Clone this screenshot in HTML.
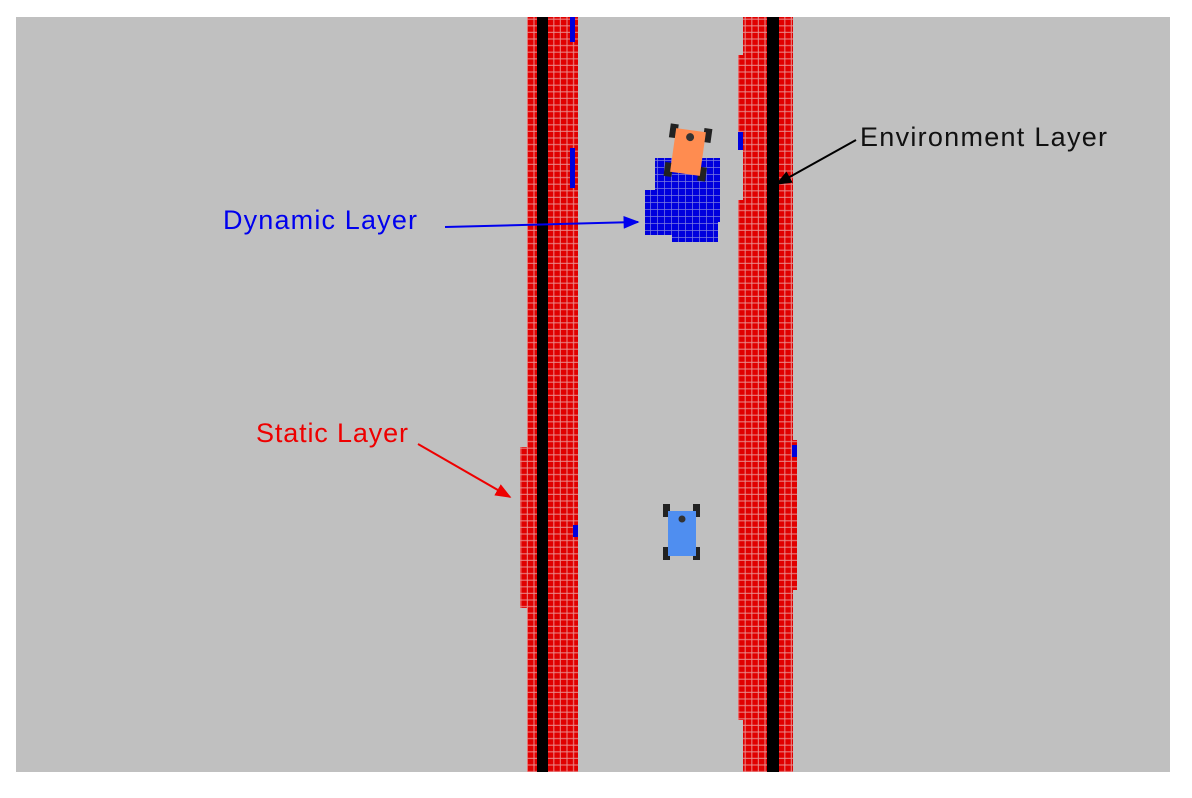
<!DOCTYPE html>
<html><head><meta charset="utf-8"><style>
body{margin:0;background:#fff;width:1192px;height:798px;overflow:hidden}
svg{display:block}
text{font-family:"Liberation Sans",sans-serif;font-size:27px}
</style></head><body>
<svg width="1192" height="798">
<defs>
<pattern id="rc" width="6.6" height="6.6" patternUnits="userSpaceOnUse">
<rect width="6.6" height="6.6" fill="#e00000"/>
<rect x="5.4" width="1.2" height="6.6" fill="#e89090" opacity="0.8"/>
<rect y="5.4" width="6.6" height="1.2" fill="#e89090" opacity="0.8"/>
</pattern>
<pattern id="bc" width="7" height="7" patternUnits="userSpaceOnUse">
<rect width="7" height="7" fill="#0000dd"/>
<rect x="6" width="1" height="7" fill="#8080e0" opacity="0.7"/>
<rect y="6" width="7" height="1" fill="#8080e0" opacity="0.7"/>
</pattern>
<marker id="ab" viewBox="0 0 10 10" refX="9" refY="5" markerWidth="8" markerHeight="8" orient="auto"><path d="M0,1L10,5L0,9z" fill="#0000ee"/></marker>
<marker id="ar" viewBox="0 0 10 10" refX="9" refY="5" markerWidth="8" markerHeight="8" orient="auto"><path d="M0,1L10,5L0,9z" fill="#ee0000"/></marker>
<marker id="ak" viewBox="0 0 10 10" refX="9" refY="5" markerWidth="8" markerHeight="8" orient="auto"><path d="M0,1L10,5L0,9z" fill="#000"/></marker>
</defs>
<rect x="16" y="17" width="1154" height="755" fill="#c0c0c0"/>
<g>
<rect x="527" y="17" width="51" height="755" fill="url(#rc)"/>
<rect x="520" y="447" width="10" height="161" fill="url(#rc)"/>
<rect x="537" y="17" width="11" height="755" fill="#000"/>
<rect x="570" y="17" width="5" height="25" fill="#0000dd"/>
<rect x="570" y="148" width="5" height="40" fill="#0000dd"/>
<rect x="573" y="525" width="5" height="12" fill="#0000dd"/>
</g>
<g>
<rect x="743" y="17" width="50" height="755" fill="url(#rc)"/>
<rect x="738" y="55" width="7" height="90" fill="url(#rc)"/>
<rect x="738" y="200" width="7" height="520" fill="url(#rc)"/>
<rect x="790" y="440" width="7" height="150" fill="url(#rc)"/>
<rect x="767" y="17" width="12" height="755" fill="#000"/>
<rect x="738" y="132" width="5" height="18" fill="#0000dd"/>
<rect x="792" y="445" width="5" height="12" fill="#0000dd"/>
</g>
<g>
<rect x="655" y="158" width="65" height="64" fill="url(#bc)"/>
<rect x="645" y="190" width="73" height="45" fill="url(#bc)"/>
<rect x="672" y="220" width="46" height="22" fill="url(#bc)"/>
</g>
<g transform="rotate(8 688 152)">
<rect x="667" y="126" width="8" height="14" fill="#222"/>
<rect x="701" y="126" width="8" height="14" fill="#222"/>
<rect x="667" y="165" width="8" height="14" fill="#222"/>
<rect x="701" y="165" width="8" height="14" fill="#222"/>
<rect x="673" y="130" width="30" height="44" fill="#ff8c50"/>
<circle cx="688" cy="137" r="4" fill="#333"/>
</g>
<g>
<rect x="663" y="504" width="7" height="13" fill="#222"/>
<rect x="693" y="504" width="7" height="13" fill="#222"/>
<rect x="663" y="547" width="7" height="13" fill="#222"/>
<rect x="693" y="547" width="7" height="13" fill="#222"/>
<rect x="668" y="511" width="28" height="45" fill="#4f8ef0"/>
<circle cx="682" cy="519" r="3.5" fill="#333"/>
</g>
<text x="860" y="146" fill="#111" textLength="247" lengthAdjust="spacing">Environment Layer</text>
<line x1="856" y1="140" x2="777" y2="184" stroke="#000" stroke-width="2" marker-end="url(#ak)"/>
<text x="223" y="229" fill="#0000ee" textLength="194" lengthAdjust="spacing">Dynamic Layer</text>
<line x1="445" y1="227" x2="638" y2="222" stroke="#0000ee" stroke-width="2" marker-end="url(#ab)"/>
<text x="256" y="442" fill="#ee0000" textLength="152" lengthAdjust="spacing">Static Layer</text>
<line x1="418" y1="444" x2="510" y2="497" stroke="#ee0000" stroke-width="2" marker-end="url(#ar)"/>
</svg>
</body></html>
